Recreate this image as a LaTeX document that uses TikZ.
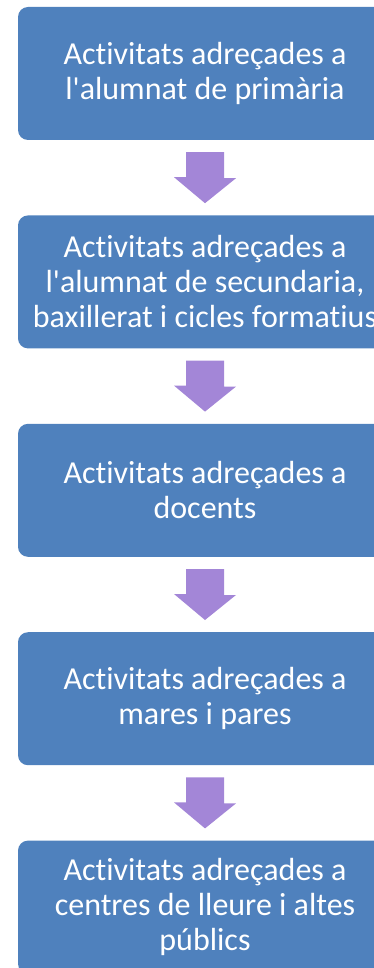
\documentclass[tikz,border=0pt]{standalone}
\usepackage{fontspec}
\setmainfont{Carlito}[RawFeature={-liga;-clig}]
\usepackage{xcolor}
\usetikzlibrary{positioning,calc}
\definecolor{boxblue}{RGB}{79,129,189}
\definecolor{arrowpurple}{RGB}{163,134,215}
\newcommand\apos{\XeTeXglyph\XeTeXcharglyph"0027\relax}
\tikzstyle{centered} = [align=center, text centered]
\tikzset{
  % node styles
  stage/.style={centered, rectangle, rounded corners=10pt, fill=boxblue, text=white,
    minimum width=374pt, minimum height=133pt, inner xsep=0pt,
    font=\fontsize{32}{35}\selectfont},
  % arrow styles
  flowarrow/.style={fill=arrowpurple},
}

\begin{document}
\begin{tikzpicture}[x=1pt,y=1pt]
        \useasboundingbox (0,0) rectangle (374,-968);
        \clip (0,0) rectangle (374,-968);
        % stages
        \node(S1)[stage] at (205,-73.5) {Activitats adreçades a\\l\apos alumnat de primària};
        \node(S2)[stage,below=75pt of S1] {Activitats adreçades a\\l\apos alumnat de secundaria,\\baxillerat i cicles formatius};
        \node(S3)[stage,below=75pt of S2] {Activitats adreçades a\\docents};
        \node(S4)[stage,below=75pt of S3] {Activitats adreçades a\\mares i pares};
        \node(S5)[stage,below=75pt of S4] {Activitats adreçades a\\centres de lleure i altes\\públics};
        % arrows
        \foreach \a/\b in {S1/S2,S2/S3,S3/S4,S4/S5}{
            \fill[flowarrow] ($(\a.south)+(-19,-12)$) -- ++(38,0) -- ++(0,-26) -- ++(12,0)
                -- ($(\b.north)+(0,12)$) -- ++(-31,26) -- ++(12,0) -- cycle;
        }
\end{tikzpicture}
\end{document}
